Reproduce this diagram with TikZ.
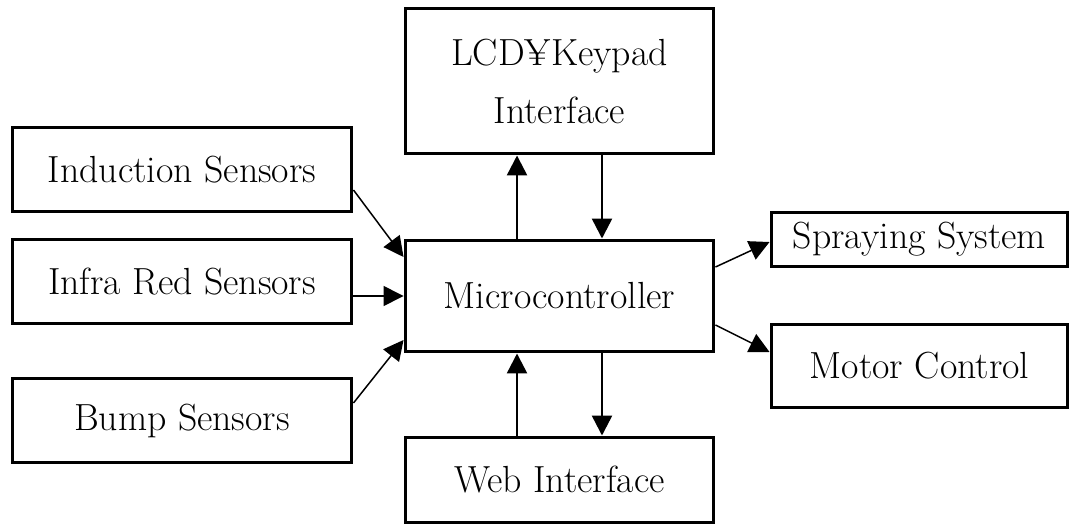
\documentclass[tikz,border=0pt]{standalone}
\usetikzlibrary{arrows.meta}
\tikzset{
	blockbox/.style={draw,line width=0.06cm,minimum width=#1,inner sep=0pt,align=center,font=\fontsize{21.5}{33}\selectfont},
	link/.style={line width=0.03cm,-{Triangle[length=0.4cm,width=0.4cm]}},
	vlink/.style={line width=0.05cm,-{Triangle[length=0.4cm,width=0.4cm]}}
}
\begin{document}
\begin{tikzpicture}[x=0.02cm,y=-0.02cm]
				\useasboundingbox (0,0) rectangle (1074,524);
				% center column
				\node[blockbox=6.18cm,minimum height=2.92cm] (lcd) at (559.5,81) {LCD¥Keypad\\Interface};
				\node[blockbox=6.18cm,minimum height=2.24cm] (mc) at (559.5,296) {Microcontroller};
				\node[blockbox=6.18cm,minimum height=1.7cm] (web) at (559.5,479.5) {Web Interface};
				% sensors
				\node[blockbox=6.8cm,minimum height=1.7cm] (ind) at (182,169.5) {Induction Sensors};
				\node[blockbox=6.8cm,minimum height=1.7cm] (ir) at (182,281.5) {Infra Red Sensors};
				\node[blockbox=6.8cm,minimum height=1.7cm] (bump) at (182,420.5) {Bump Sensors};
				% outputs
				\node[blockbox=5.94cm,minimum height=1.1cm] (spray) at (919.5,239.5) {Spraying System};
				\node[blockbox=5.94cm,minimum height=1.68cm] (motor) at (919.5,366) {Motor Control};
				% arrows
				\draw[link] ([yshift=-0.41cm]ind.east) -- ([yshift=0.78cm]mc.west);
				\draw[link] (ir.east |- mc.west) -- (mc.west);
				\draw[link] ([yshift=0.35cm]bump.east) -- ([yshift=-0.88cm]mc.west);
				\draw[link] ([yshift=0.58cm]mc.east) -- ([yshift=-0.05cm]spray.west);
				\draw[link] ([yshift=-0.58cm]mc.east) -- ([yshift=0.28cm]motor.west);
				\draw[vlink] ([xshift=-0.85cm]mc.north) -- ([xshift=-0.85cm]lcd.south);
				\draw[vlink] ([xshift=0.85cm]lcd.south) -- ([xshift=0.85cm]mc.north);
				\draw[vlink] ([xshift=-0.85cm]web.north) -- ([xshift=-0.85cm]mc.south);
				\draw[vlink] ([xshift=0.85cm]mc.south) -- ([xshift=0.85cm]web.north);
\end{tikzpicture}
\end{document}
